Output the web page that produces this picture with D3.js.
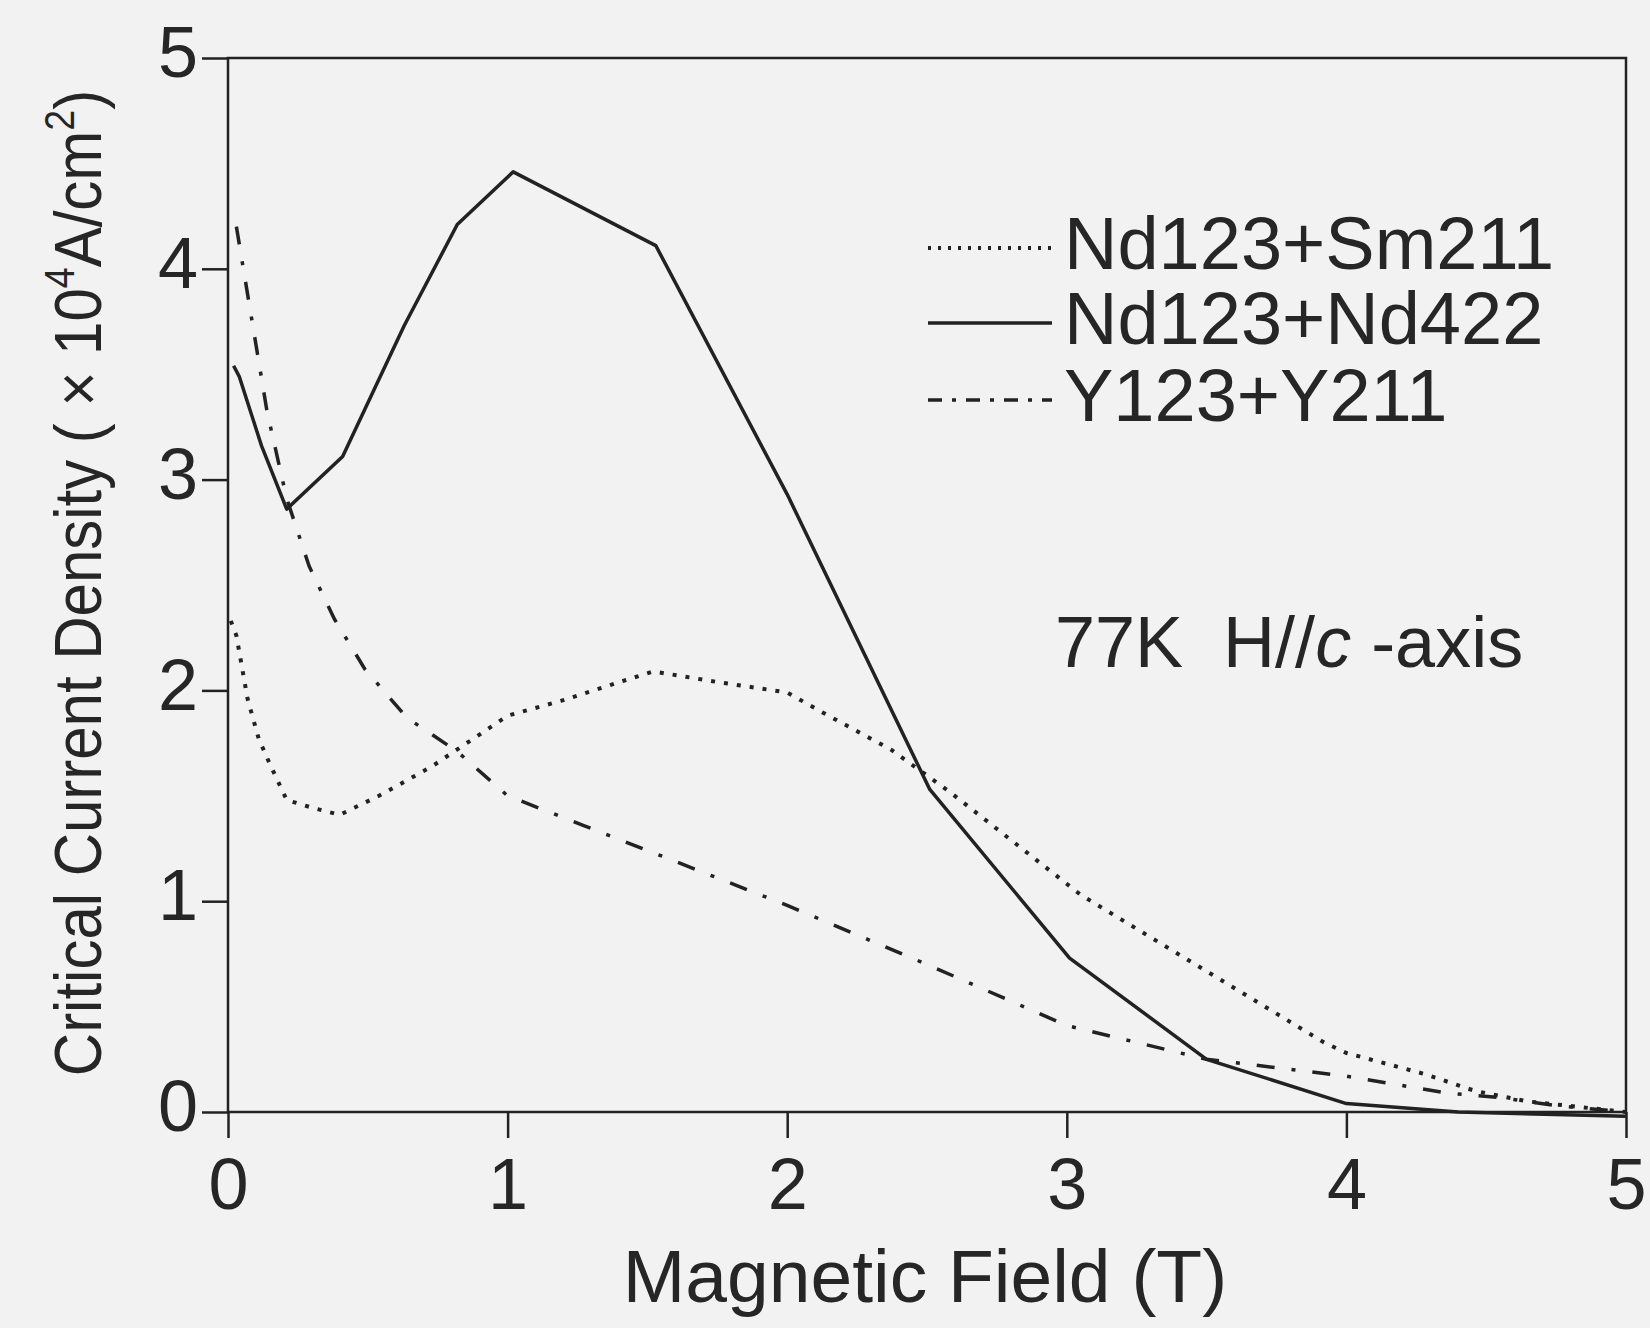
<!DOCTYPE html>
<html>
<head>
<meta charset="utf-8">
<script src="https://cdn.jsdelivr.net/npm/d3@7"></script>
<style>
  html, body { margin: 0; padding: 0; background: #f3f2f3; }
  svg { display: block; }
  text { font-family: "Liberation Sans", Arial, Helvetica, sans-serif; fill: #262626; }
</style>
</head>
<body>
<svg id="chart" width="1650" height="1328"></svg>
<script>
// ---- Data ----
const seriesNames = ["Nd123+Sm211", "Nd123+Nd422", "Y123+Y211"];

const fieldSm211 = [0.01,0.03,0.07,0.11,0.15,0.21,0.31,0.40,0.54,0.73,0.82,1.00,1.19,1.52,1.75,2.00,2.12,2.37,2.58,3.05,3.41,3.92,4.00,4.28,4.46,4.65,4.93,5.00];
const jcSm211    = [2.33,2.26,1.96,1.77,1.65,1.48,1.44,1.41,1.50,1.64,1.72,1.88,1.95,2.09,2.04,1.99,1.90,1.72,1.52,1.03,0.74,0.33,0.28,0.18,0.10,0.05,0.01,0.00];

const fieldNd422 = [0.02,0.04,0.12,0.21,0.41,0.63,0.82,1.02,1.53,2.00,2.51,3.01,3.50,4.00,4.40,5.00];
const jcNd422    = [3.54,3.49,3.16,2.86,3.11,3.73,4.21,4.46,4.11,2.93,1.53,0.73,0.25,0.04,0.00,-0.02];

const fieldY211  = [0.03,0.08,0.14,0.21,0.29,0.38,0.49,0.64,0.82,1.00,1.27,1.54,2.00,2.50,3.00,3.50,4.00,4.18,4.36,4.54,4.75,5.00];
const jcY211     = [4.20,3.80,3.32,2.91,2.59,2.34,2.10,1.87,1.71,1.50,1.36,1.22,0.98,0.70,0.41,0.25,0.17,0.13,0.09,0.07,0.03,0.00];

const xTicks = [0,1,2,3,4,5];
const yTicks = [0,1,2,3,4,5];
const xTitle = "Magnetic Field (T)";
const annotationParts = ["77K  H//", "c", " -axis"];

// ---- Layout ----
const svg = d3.select("#chart");
const pLeft = 228, pRight = 1626, pTop = 58, pBottom = 1112;
const x = d3.scaleLinear().domain([0,5]).range([pLeft, pRight]);
const y = d3.scaleLinear().domain([0,5]).range([pBottom, pTop]);
const ink = "#222";

// frame
svg.append("rect")
  .attr("x", pLeft).attr("y", pTop)
  .attr("width", pRight-pLeft).attr("height", pBottom-pTop)
  .attr("fill", "none").attr("stroke", ink).attr("stroke-width", 2.5);

// axes
const xAxis = d3.axisBottom(x).tickValues(xTicks).tickSize(26).tickPadding(20).tickFormat(d3.format("d"));
const yAxis = d3.axisLeft(y).tickValues(yTicks).tickSize(26).tickPadding(4).tickFormat(d3.format("d"));

const gx = svg.append("g").attr("transform", `translate(0,${pBottom})`).call(xAxis);
const gy = svg.append("g").attr("transform", `translate(${pLeft},0)`).call(yAxis);
[gx, gy].forEach(g => {
  g.select(".domain").remove();
  g.selectAll(".tick line").attr("stroke", ink).attr("stroke-width", 2.5);
  g.selectAll(".tick text").attr("fill", "#262626")
    .style("font-family", '"Liberation Sans", Arial, sans-serif')
    .style("font-size", "72px");
});
gy.selectAll(".tick text").attr("dy", "0.26em");

// series lines
const line = d3.line().x(d => x(d[0])).y(d => y(d[1]));
const styles = [
  { dash: "4,9",  width: 4 },
  { dash: null,   width: 3.5 },
  { dash: "18,17,4,17", width: 3.5 }
];
const data = [
  d3.zip(fieldSm211, jcSm211),
  d3.zip(fieldNd422, jcNd422),
  d3.zip(fieldY211, jcY211)
];
data.forEach((d, i) => {
  svg.append("path").datum(d)
    .attr("d", line)
    .attr("fill", "none")
    .attr("stroke", ink)
    .attr("stroke-width", styles[i].width)
    .attr("stroke-linejoin", "round")
    .attr("stroke-dasharray", styles[i].dash);
});

// legend
const legY = [248, 323, 400];
const leg = svg.append("g");
seriesNames.forEach((name, i) => {
  leg.append("line")
    .attr("x1", 928).attr("x2", 1052)
    .attr("y1", legY[i]).attr("y2", legY[i])
    .attr("stroke", ink).attr("stroke-width", styles[i].width)
    .attr("stroke-dasharray", i === 0 ? "3,7" : (i === 2 ? "14,10,4,10" : null));
  leg.append("text")
    .attr("x", 1064).attr("y", legY[i] + 21)
    .style("font-size", "74px")
    .text(name);
});

// annotation
const ann = svg.append("text")
  .attr("x", 1055).attr("y", 667)
  .attr("xml:space", "preserve")
  .style("font-size", "72px")
  .style("white-space", "pre");
ann.append("tspan").text(annotationParts[0]);
ann.append("tspan").style("font-style", "italic").text(annotationParts[1]);
ann.append("tspan").text(annotationParts[2]);

// x title
svg.append("text")
  .attr("x", 925).attr("y", 1302)
  .attr("text-anchor", "middle")
  .style("font-size", "75px")
  .text(xTitle);

// y title (slightly condensed like the reference face)
const yt = svg.append("text")
  .attr("transform", "translate(101,583) rotate(-90) scale(0.895,1)")
  .attr("text-anchor", "middle")
  .style("font-size", "67px");
yt.append("tspan").text("Critical Current Density ( \u00D7 10");
yt.append("tspan").attr("dy", -27).style("font-size", "42px").text("4");
yt.append("tspan").attr("dy", 27).text("A/cm");
yt.append("tspan").attr("dy", -27).style("font-size", "42px").text("2");
yt.append("tspan").attr("dy", 27).text(")");
</script>
</body>
</html>
